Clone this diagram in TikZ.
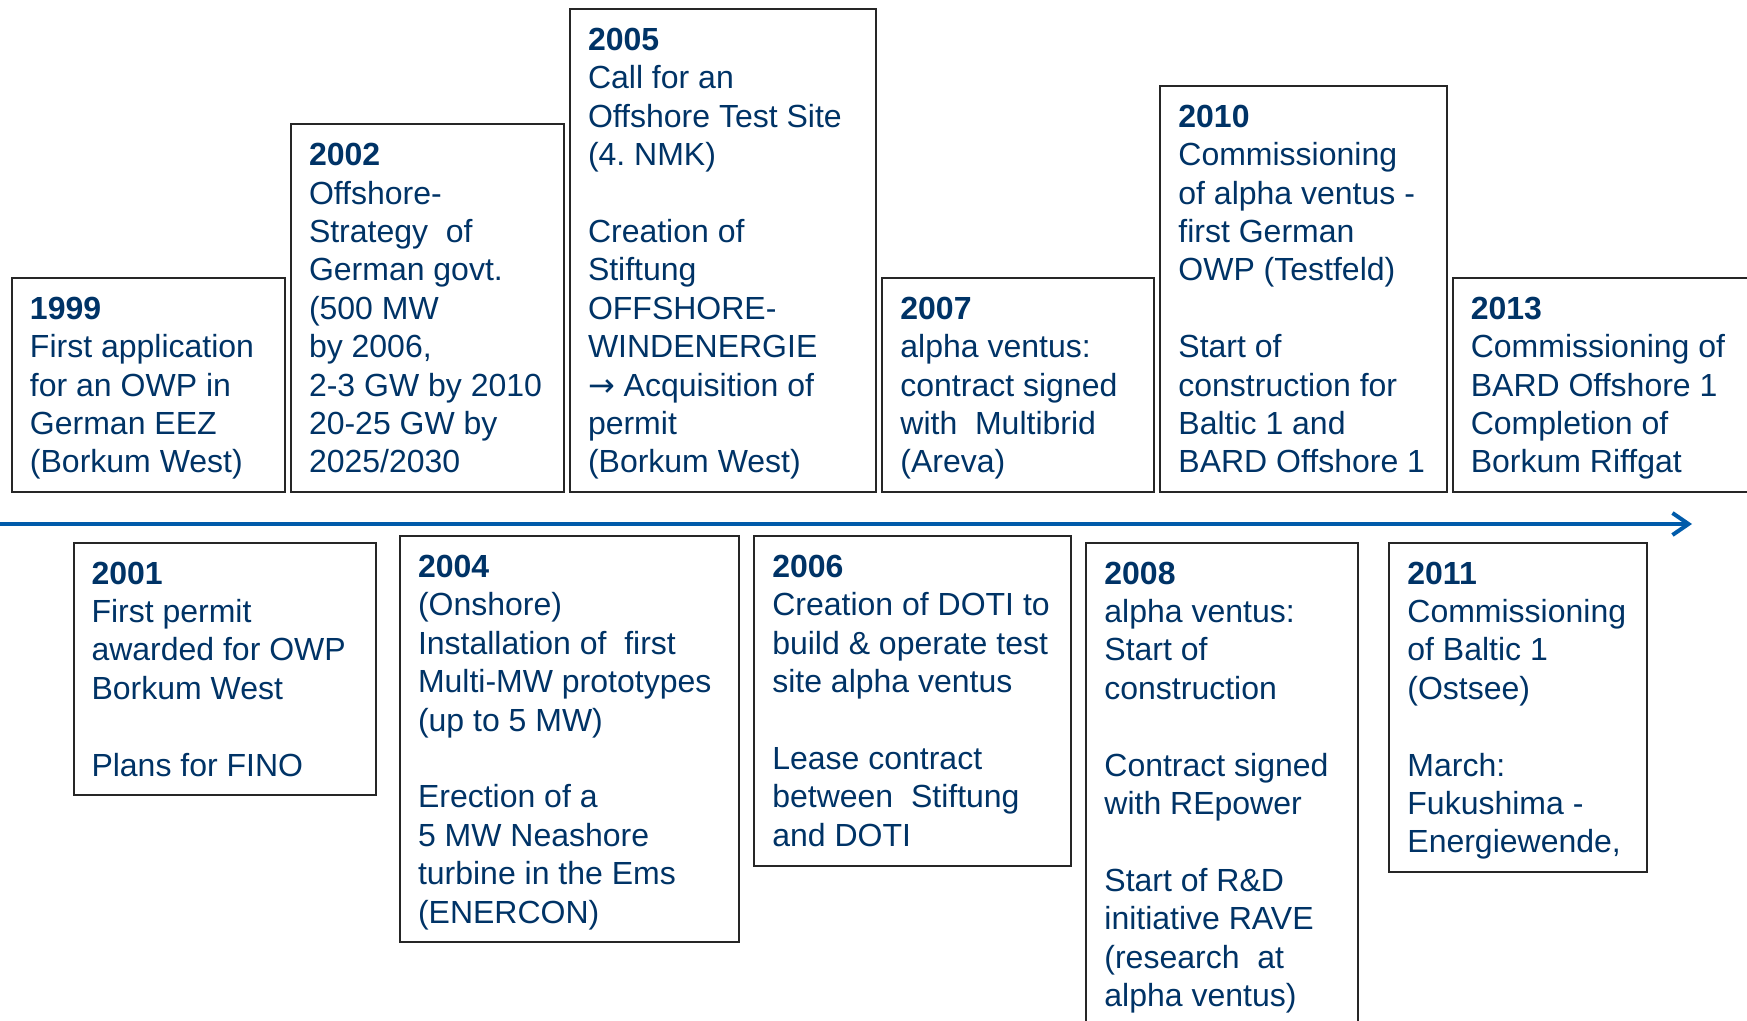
\documentclass[tikz,border=0pt]{standalone}
\usepackage{fontspec}
\setmainfont{Liberation Sans}
\newfontfamily\arrowfont{DejaVu Sans}
\usetikzlibrary{positioning,arrows.meta}
\definecolor{txtblue}{RGB}{0,51,102}
\definecolor{lineblue}{RGB}{0,91,170}
\hyphenpenalty=10000
\frenchspacing
\tikzset{
  evtbox/.style   = {shape=rectangle, draw=black!85, line width=1pt,
                     align=flush left, inner xsep=9pt, inner ysep=3.8pt, outer sep=0pt,
                     text height=17pt, execute at end node=\strut,
                     text=txtblue, font=\fontsize{16}{19.2}\selectfont},
  upper/.style    = {evtbox, anchor=south west},
  lower/.style    = {evtbox, anchor=north west},
  timeline/.style = {draw=lineblue, line width=2pt,
                     -{Straight Barb[length=8pt,width=11pt]}}
}
\newcommand{\yr}[1]{\textbf{#1}\\}
\newcommand{\gap}{\\[19.2pt]}

\begin{document}
\begin{tikzpicture}[x=0.5pt,y=-0.5pt]
\useasboundingbox (0,0) rectangle (1747,1021);
% events above the time line
\node [upper, text width=118.5pt] (e1999) at (12,492) {\yr{1999}First application\\for an OWP in\\German EEZ\\(Borkum West)};
\node [upper, text width=118.5pt, right=3pt of e1999.south east, anchor=south west] (e2002)
  {\yr{2002}Offshore-\\Strategy~ of\\German govt.\\(500 MW\\by 2006,\\2-3 GW by 2010\\20-25 GW by\\2025/2030};
\node [upper, text width=135.2pt, right=3pt of e2002.south east, anchor=south west] (e2005)
  {\yr{2005}Call for an\\Offshore Test Site\\(4. NMK)\gap Creation of\\Stiftung\\OFFSHORE-\\WINDENERGIE\\{\arrowfont →} Acquisition of\\permit\\(Borkum West)};
\node [upper, text width=118pt, right=3pt of e2005.south east, anchor=south west] (e2007)
  {\yr{2007}alpha ventus:\\contract signed\\with~ Multibrid\\(Areva)};
\node [upper, text width=125.2pt, right=3pt of e2007.south east, anchor=south west] (e2010)
  {\yr{2010}Commissioning\\of alpha ventus -\\first German\\OWP (Testfeld)\gap Start of\\construction for\\Baltic 1 and\\BARD Offshore 1};
\node [upper, text width=140pt, right=3pt of e2010.south east, anchor=south west] (e2013)
  {\yr{2013}Commissioning of\\BARD Offshore 1\\Completion of\\Borkum Riffgat};
% time line
\coordinate (t0) at (0,524);
\coordinate (t1) at (1692,524);
\draw [timeline] (t0) -- (t1);
% events below the time line
\node [lower, text width=133pt] (e2001) at (73.5,542.6)
  {\yr{2001}First permit\\awarded for OWP\\Borkum West\gap Plans for FINO};
\node [lower, text width=151.3pt] (e2004) at (400,536)
  {\yr{2004}(Onshore)\\Installation of~ first\\Multi-MW prototypes\\(up to 5 MW)\gap Erection of a\\5 MW Neashore\\turbine in the Ems\\(ENERCON)};
\node [lower, text width=140.2pt] (e2006) at (754.3,536)
  {\yr{2006}Creation of DOTI to\\build \& operate test\\site alpha ventus\gap Lease contract\\between~ Stiftung\\and DOTI};
\node [lower, text width=117.9pt] (e2008) at (1086.4,542.6)
  {\yr{2008}alpha ventus:\\Start of\\construction\gap Contract signed\\with REpower\gap Start of R\&D\\initiative RAVE\\(research~ at\\alpha ventus)};
\node [lower, text width=110.7pt] (e2011) at (1389.4,542.6)
  {\yr{2011}Commissioning\\of Baltic 1\\(Ostsee)\gap March:\\Fukushima -\\Energiewende,};
\end{tikzpicture}
\end{document}
